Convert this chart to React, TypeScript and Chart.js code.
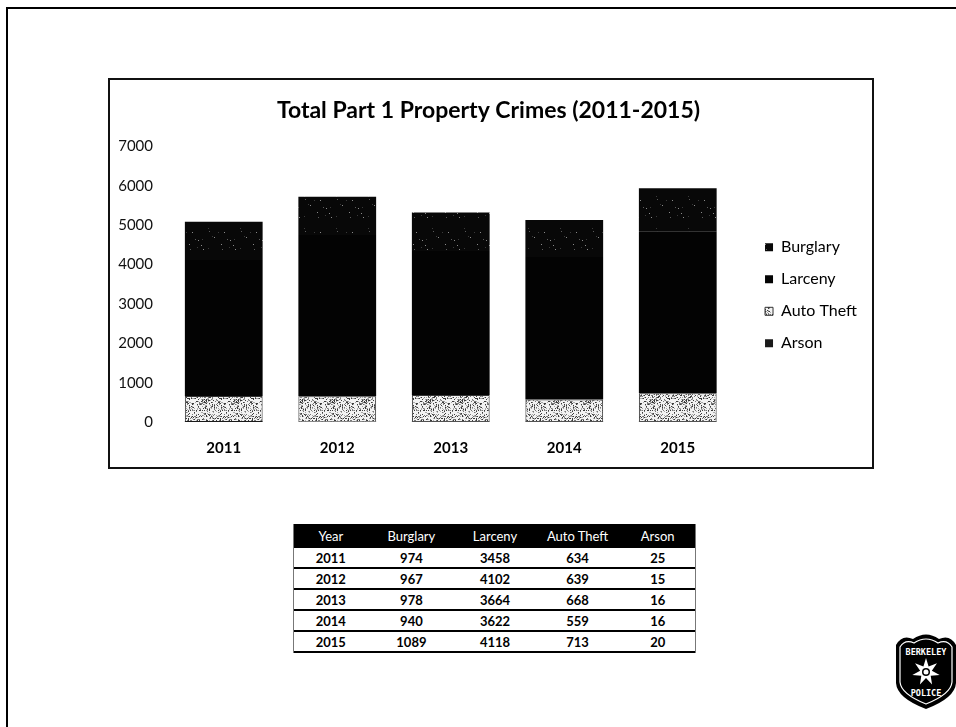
import React, { useEffect, useRef } from 'react';
import { Chart, registerables } from 'chart.js';

Chart.register(...registerables);

// ---- data ----
const categories = ['2011', '2012', '2013', '2014', '2015'];
const burglary = [974, 967, 978, 940, 1089];
const larceny = [3458, 4102, 3664, 3622, 4118];
const autoTheft = [634, 639, 668, 559, 713];
const arson = [25, 15, 16, 16, 20];
const seriesNames = ['Burglary', 'Larceny', 'Auto Theft', 'Arson'];
const yMin = 0;
const yMax = 7000;
const yStep = 1000;
const chartTitle = 'Total Part 1 Property Crimes (2011-2015)';
const tableHeaders = ['Year', 'Burglary', 'Larceny', 'Auto Theft', 'Arson'];

const FONT = 'Lato, "Open Sans", sans-serif';

function makeSpeckle(base: string, dots: string[], density: number, seed: number) {
  const size = 32;
  const c = document.createElement('canvas');
  c.width = size;
  c.height = size;
  const ctx = c.getContext('2d')!;
  ctx.fillStyle = base;
  ctx.fillRect(0, 0, size, size);
  let s = seed >>> 0;
  for (let y = 0; y < size; y++) {
    for (let x = 0; x < size; x++) {
      s = (Math.imul(s, 1664525) + 1013904223) >>> 0;
      const r = s / 4294967296;
      if (r < density) {
        ctx.fillStyle = dots[(s >>> 7) % dots.length];
        ctx.fillRect(x, y, 1, 1);
      }
    }
  }
  return ctx.createPattern(c, 'repeat');
}

function BarChart() {
  const ref = useRef<HTMLCanvasElement>(null);
  useEffect(() => {
    if (!ref.current) return;
    const burglaryFill = makeSpeckle('#080808', ['#5a5a5a', '#8a8a8a', '#3a3a3a'], 0.014, 17);
    const larcenyFill = '#030303';
    const autoFill = makeSpeckle('#f2f2f2', ['#3a3a3a', '#777777', '#aaaaaa'], 0.34, 91);
    const arsonFill = '#1a1a1a';
    const chart = new Chart(ref.current, {
      type: 'bar',
      data: {
        labels: categories,
        datasets: [
          { label: seriesNames[3], data: arson, backgroundColor: arsonFill as any, xAxisID: 'x', yAxisID: 'y' },
          { label: seriesNames[2], data: autoTheft, backgroundColor: autoFill as any, borderColor: '#333', borderWidth: 1, xAxisID: 'x', yAxisID: 'y' },
          { label: seriesNames[1], data: larceny, backgroundColor: larcenyFill, xAxisID: 'x', yAxisID: 'y' },
          { label: seriesNames[0], data: burglary, backgroundColor: burglaryFill as any, xAxisID: 'x', yAxisID: 'y' },
        ],
      },
      options: {
        animation: false,
        responsive: false,
        maintainAspectRatio: false,
        datasets: { bar: { barPercentage: 0.685, categoryPercentage: 1 } },
        layout: { padding: { left: 0, right: 5, top: 0, bottom: 5 } },
        scales: {
          x: {
            stacked: true,
            grid: { display: false, drawTicks: false },
            border: { display: false },
            ticks: { color: '#000', font: { family: FONT, size: 15, weight: 'bold' }, padding: 17, maxRotation: 0 },
            afterFit: (s: any) => { s.height = 40; },
          },
          y: {
            stacked: true,
            min: yMin,
            max: yMax,
            grid: { display: false, drawTicks: false },
            border: { display: false },
            ticks: {
              stepSize: yStep,
              color: '#111',
              font: { family: FONT, size: 15 },
              padding: 14,
              callback: (v: any) => String(v),
            },
            afterFit: (s: any) => { s.width = 57; },
          },
          gap: {
            type: 'linear',
            position: 'right',
            display: true,
            grid: { display: false, drawTicks: false },
            border: { display: false },
            ticks: { display: false },
            afterFit: (s: any) => { s.width = 14.5; },
          },
        },
        plugins: {
          title: {
            display: true,
            text: chartTitle,
            color: '#000',
            font: { family: FONT, size: 23, weight: 'bold' },
            padding: { top: 17, bottom: 22 },
          },
          legend: {
            display: true,
            position: 'right',
            fullSize: false,
            reverse: true,
            title: { display: true, text: '', font: { size: 10 }, padding: { top: 10, bottom: 0 } },
            labels: {
              boxWidth: 8,
              boxHeight: 8,
              padding: 16,
              color: '#000',
              font: { family: FONT, size: 16 },
            },
          },
          tooltip: { enabled: false },
        },
      } as any,
    });
    return () => chart.destroy();
  }, []);
  return <canvas ref={ref} width={762} height={387} style={{ position: 'absolute', left: 110, top: 80, width: 762, height: 387 }} />;
}

function DataTable() {
  const colW = [74, 88, 80, 86, 75];
  const rows = categories.map((year, i) => [year, burglary[i], larceny[i], autoTheft[i], arson[i]]);
  const cell = (w: number, content: any, key: number) => (
    <div key={key} style={{ width: w, textAlign: 'center' }}>{content}</div>
  );
  return (
    <div style={{ position: 'absolute', left: 293, top: 524, width: 403, fontFamily: FONT, fontSize: 13, color: '#000', borderLeft: '1px solid #777', borderRight: '1px solid #777', boxSizing: 'border-box' }}>
      <div style={{ display: 'flex', height: 24, alignItems: 'center', background: '#000', color: '#fff' }}>
        {tableHeaders.map((h, j) => cell(colW[j], h, j))}
      </div>
      {rows.map((r, i) => (
        <div key={i} style={{ display: 'flex', height: 19, alignItems: 'center', fontWeight: 'bold', borderBottom: '2px solid #000' }}>
          {r.map((v, j) => cell(colW[j], String(v), j))}
        </div>
      ))}
    </div>
  );
}

function Badge() {
  const star: string[] = [];
  for (let k = 0; k < 14; k++) {
    const a = (Math.PI * 2 * k) / 14 - Math.PI / 2;
    const rr = k % 2 === 0 ? 14 : 6;
    star.push(`${(33 + rr * Math.cos(a)).toFixed(2)},${(41 + rr * Math.sin(a)).toFixed(2)}`);
  }
  return (
    <svg width={66} height={80} viewBox="0 0 66 80" style={{ position: 'absolute', left: 893, top: 631 }}>
      <path d="M3,14 Q9,3 20,8 Q33,-1 46,8 Q57,3 63,14 L63,52 Q62,67 33,78 Q4,67 3,52 Z" fill="#000" />
      <path d="M7,16 Q12,8 21,12 Q33,4 45,12 Q54,8 59,16 L59,51 Q58,63 33,73 Q8,63 7,51 Z" fill="none" stroke="#fff" strokeWidth={1.2} />
      <text x={33} y={24} textAnchor="middle" fill="#fff" fontFamily="DejaVu Sans Mono, monospace" fontWeight="bold" fontSize={8.5}>BERKELEY</text>
      <polygon points={star.join(' ')} fill="#fff" />
      <circle cx={33} cy={41} r={4} fill="#000" />
      <circle cx={33} cy={41} r={2.5} fill="#fff" />
      <text x={33} y={65} textAnchor="middle" fill="#fff" fontFamily="DejaVu Sans Mono, monospace" fontWeight="bold" fontSize={8.5}>POLICE</text>
    </svg>
  );
}

export default function App() {
  return (
    <div style={{ position: 'absolute', left: 0, top: 0, width: 956, height: 727, overflow: 'hidden', background: '#fff' }}>
      <div style={{ position: 'absolute', left: 6, top: 7, width: 960, height: 730, borderTop: '2px solid #000', borderLeft: '2px solid #000' }} />
      <div style={{ position: 'absolute', left: 108, top: 78, width: 766, height: 391, border: '2px solid #111', boxSizing: 'border-box' }} />
      <BarChart />
      <DataTable />
      <Badge />
    </div>
  );
}
